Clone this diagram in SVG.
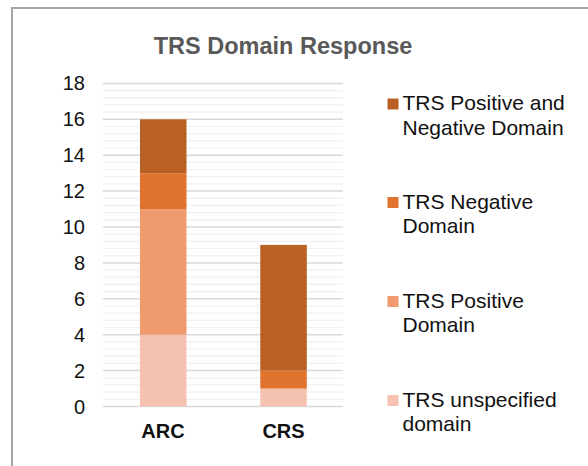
<svg xmlns="http://www.w3.org/2000/svg" width="588" height="466" viewBox="0 0 588 466">
  <style>
    .title { font-family: "Liberation Sans", Arial, sans-serif; font-size: 23.5px; font-weight: bold; fill: #595959; }
    .ytick { font-family: "Liberation Sans", Arial, sans-serif; font-size: 20px; fill: #111; text-anchor: end; }
    .xtick { font-family: "Liberation Sans", Arial, sans-serif; font-size: 20px; font-weight: bold; fill: #111; text-anchor: middle; }
    .legend { font-family: "Liberation Sans", Arial, sans-serif; font-size: 21px; fill: #111; }
    .major { stroke: #d9d9d9; stroke-width: 1.5; }
    .minor { stroke: #f0f0f0; stroke-width: 1.2; }
    .c1 { fill: #b96125; }
    .c2 { fill: #e0742e; }
    .c3 { fill: #f09a70; }
    .c4 { fill: #f5c2b1; }
  </style>

  <!-- background and chart frame -->
  <rect x="0" y="0" width="588" height="466" fill="#ffffff"/>
  <rect x="12" y="8" width="600" height="480" fill="#ffffff" stroke="#a6a6a6" stroke-width="2"/>

  <!-- chart title -->
  <text id="title" class="title" x="283" y="54" text-anchor="middle">TRS Domain Response</text>

  <!-- gridlines: minor every 0.4, major every 2 -->
  <g id="grid">
    <g class="minor">
      <line x1="103" x2="343" y1="399.3" y2="399.3"/><line x1="103" x2="343" y1="392.1" y2="392.1"/><line x1="103" x2="343" y1="384.9" y2="384.9"/><line x1="103" x2="343" y1="377.8" y2="377.8"/>
      <line x1="103" x2="343" y1="363.4" y2="363.4"/><line x1="103" x2="343" y1="356.2" y2="356.2"/><line x1="103" x2="343" y1="349.0" y2="349.0"/><line x1="103" x2="343" y1="341.9" y2="341.9"/>
      <line x1="103" x2="343" y1="327.5" y2="327.5"/><line x1="103" x2="343" y1="320.3" y2="320.3"/><line x1="103" x2="343" y1="313.1" y2="313.1"/><line x1="103" x2="343" y1="306.0" y2="306.0"/>
      <line x1="103" x2="343" y1="291.6" y2="291.6"/><line x1="103" x2="343" y1="284.4" y2="284.4"/><line x1="103" x2="343" y1="277.2" y2="277.2"/><line x1="103" x2="343" y1="270.1" y2="270.1"/>
      <line x1="103" x2="343" y1="255.7" y2="255.7"/><line x1="103" x2="343" y1="248.5" y2="248.5"/><line x1="103" x2="343" y1="241.3" y2="241.3"/><line x1="103" x2="343" y1="234.2" y2="234.2"/>
      <line x1="103" x2="343" y1="219.8" y2="219.8"/><line x1="103" x2="343" y1="212.6" y2="212.6"/><line x1="103" x2="343" y1="205.4" y2="205.4"/><line x1="103" x2="343" y1="198.3" y2="198.3"/>
      <line x1="103" x2="343" y1="183.9" y2="183.9"/><line x1="103" x2="343" y1="176.7" y2="176.7"/><line x1="103" x2="343" y1="169.5" y2="169.5"/><line x1="103" x2="343" y1="162.4" y2="162.4"/>
      <line x1="103" x2="343" y1="148.0" y2="148.0"/><line x1="103" x2="343" y1="140.8" y2="140.8"/><line x1="103" x2="343" y1="133.6" y2="133.6"/><line x1="103" x2="343" y1="126.5" y2="126.5"/>
      <line x1="103" x2="343" y1="112.1" y2="112.1"/><line x1="103" x2="343" y1="104.9" y2="104.9"/><line x1="103" x2="343" y1="97.7" y2="97.7"/><line x1="103" x2="343" y1="90.6" y2="90.6"/>
    </g>
    <g class="major">
      <line x1="103" x2="343" y1="406.5" y2="406.5"/><line x1="103" x2="343" y1="370.6" y2="370.6"/><line x1="103" x2="343" y1="334.7" y2="334.7"/>
      <line x1="103" x2="343" y1="298.8" y2="298.8"/><line x1="103" x2="343" y1="262.9" y2="262.9"/><line x1="103" x2="343" y1="227.0" y2="227.0"/>
      <line x1="103" x2="343" y1="191.1" y2="191.1"/><line x1="103" x2="343" y1="155.2" y2="155.2"/><line x1="103" x2="343" y1="119.3" y2="119.3"/>
      <line x1="103" x2="343" y1="83.4" y2="83.4"/>
    </g>
  </g>

  <!-- y axis tick labels -->
  <g id="y-axis">
    <text class="ytick" x="85" y="413.5">0</text>
    <text class="ytick" x="85" y="377.6">2</text>
    <text class="ytick" x="85" y="341.7">4</text>
    <text class="ytick" x="85" y="305.8">6</text>
    <text class="ytick" x="85" y="269.9">8</text>
    <text class="ytick" x="85" y="234.0">10</text>
    <text class="ytick" x="85" y="198.1">12</text>
    <text class="ytick" x="85" y="162.2">14</text>
    <text class="ytick" x="85" y="126.3">16</text>
    <text class="ytick" x="85" y="90.4">18</text>
  </g>

  <!-- stacked bars -->
  <g id="bar-arc">
    <rect class="c4" x="140" y="334.7" width="46.5" height="71.8"/>
    <rect class="c3" x="140" y="209.1" width="46.5" height="125.6"/>
    <rect class="c2" x="140" y="173.2" width="46.5" height="35.9"/>
    <rect class="c1" x="140" y="119.3" width="46.5" height="53.9"/>
  </g>
  <g id="bar-crs">
    <rect class="c4" x="260.3" y="388.6" width="46.5" height="17.9"/>
    <rect class="c2" x="260.3" y="370.6" width="46.5" height="18"/>
    <rect class="c1" x="260.3" y="244.9" width="46.5" height="125.7"/>
  </g>

  <!-- category labels -->
  <g id="x-axis">
    <text class="xtick" x="163" y="438">ARC</text>
    <text class="xtick" x="283.5" y="438">CRS</text>
  </g>

  <!-- legend -->
  <g id="legend-pos-neg">
    <rect class="c1" x="387.5" y="98.5" width="11" height="11"/>
    <text class="legend" x="402.5" y="110">TRS Positive and</text>
    <text class="legend" x="402.5" y="134.5">Negative Domain</text>
  </g>
  <g id="legend-negative">
    <rect class="c2" x="387.5" y="197" width="11" height="11"/>
    <text class="legend" x="402.5" y="208.5">TRS Negative</text>
    <text class="legend" x="402.5" y="233">Domain</text>
  </g>
  <g id="legend-positive">
    <rect class="c3" x="387.5" y="296" width="11" height="11"/>
    <text class="legend" x="402.5" y="307.5">TRS Positive</text>
    <text class="legend" x="402.5" y="332">Domain</text>
  </g>
  <g id="legend-unspecified">
    <rect class="c4" x="387.5" y="395" width="11" height="11"/>
    <text class="legend" x="402.5" y="406.5">TRS unspecified</text>
    <text class="legend" x="402.5" y="431">domain</text>
  </g>
</svg>
